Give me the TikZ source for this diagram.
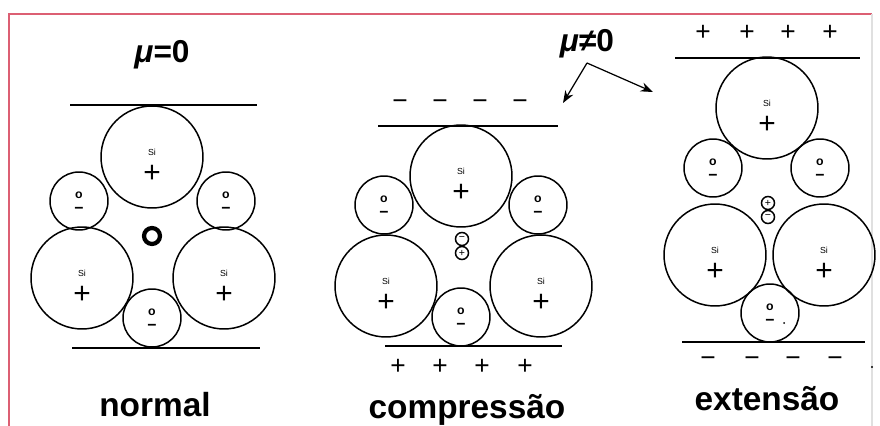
\documentclass[tikz,border=0pt]{standalone}
\usepackage{fontspec}
\setmainfont{Liberation Sans}
\usetikzlibrary{arrows.meta}

\definecolor{framered}{RGB}{220,95,115}

\begin{document}
\begin{tikzpicture}
   [x=0.02cm, y=-0.02cm,
    big atom/.style={circle,draw,line width=0.85pt,minimum size=2.04cm,inner sep=0pt},
    small atom/.style={circle,draw,line width=0.85pt,minimum size=1.16cm,inner sep=0pt},
    ion/.style={circle,draw,line width=0.85pt,minimum size=0.26cm,inner sep=0pt,font=\fontsize{6}{6}\selectfont},
    si tag/.style={font=\fontsize{5}{6}\selectfont,inner sep=0pt},
    plus tag/.style={font=\fontsize{17}{17}\selectfont,inner sep=0pt},
    o tag/.style={font=\fontsize{7}{7}\selectfont\bfseries,inner sep=0pt},
    minus tag/.style={font=\fontsize{9}{9}\selectfont\bfseries,inner sep=0pt},
    charge/.style={font=\fontsize{15}{15}\selectfont,inner sep=0pt},
    plate/.style={line width=1.1pt},
    caption/.style={font=\fontsize{19}{22}\selectfont\bfseries,anchor=base,inner sep=0pt},
    mu/.style={font=\fontsize{18}{20}\selectfont\bfseries}]
   \useasboundingbox (0,0) rectangle (880,426);

   % frame
   \draw[framered, line width=1.2pt] (9,430) -- (9,14) -- (872,14);
   \draw[black!12, line width=0.6pt] (872,14) -- (872,430);

   % normal
   \node[mu] (mu-n) at (162,55) {{\itshape μ}=0};
   \draw[plate] (70,105) -- (257,105);
   \draw[plate] (72,348) -- (260,348);
   \foreach \n/\x/\y in {n-top/152/157, n-left/82/278, n-right/224/278} {
      \node[big atom] (\n) at (\x,\y) {};
      \node[si tag] (\n-si) at (\x,\y-5) {Si};
      \node[plus tag] (\n-p) at (\x,\y+17) {+};
   }
   \foreach \n/\x/\y in {n-oleft/79/201, n-oright/226/201, n-obot/152/318} {
      \node[small atom] (\n) at (\x,\y) {};
      \node[o tag] (\n-o) at (\x,\y-6) {o};
      \node[minus tag] (\n-m) at (\x,\y+9) {−};
   }
   \node[circle,draw,line width=2.4pt,minimum size=0.32cm,inner sep=0pt] (n-void) at (152,236) {};
   \node[caption] (cap-n) at (155,416) {normal};

   % compressao
   \draw[plate] (378,126) -- (558,126);
   \draw[plate] (385,346) -- (562,346);
   \foreach \x [count=\i] in {400,440,480,520}
      \node[charge] (c-top\i) at (\x,105) {−};
   \foreach \x [count=\i] in {398,440,482,525}
      \node[charge] (c-bot\i) at (\x,367) {+};
   \foreach \n/\x/\y in {c-top/461/176, c-left/386/286, c-right/541/286} {
      \node[big atom] (\n) at (\x,\y) {};
      \node[si tag] (\n-si) at (\x,\y-5) {Si};
      \node[plus tag] (\n-p) at (\x,\y+17) {+};
   }
   \foreach \n/\x/\y in {c-oleft/384/205, c-oright/538/205, c-obot/461/317} {
      \node[small atom] (\n) at (\x,\y) {};
      \node[o tag] (\n-o) at (\x,\y-6) {o};
      \node[minus tag] (\n-m) at (\x,\y+9) {−};
   }
   \node[ion] (c-neg) at (462,239) {−};
   \node[ion] (c-pos) at (462,253) {+};
   \node[caption] (cap-c) at (467,418) {compressão};

   % extensao
   \draw[plate] (675,58) -- (860,58);
   \draw[plate] (682,342) -- (865,342);
   \foreach \x [count=\i] in {703,747,788,830}
      \node[charge] (e-top\i) at (\x,33) {+};
   \foreach \x [count=\i] in {708,752,793,835}
      \node[charge] (e-bot\i) at (\x,362) {−};
   \fill (872,367) circle (1.2);
   \foreach \n/\x/\y in {e-top/767/108, e-left/715/255, e-right/824/255} {
      \node[big atom] (\n) at (\x,\y) {};
      \node[si tag] (\n-si) at (\x,\y-5) {Si};
      \node[plus tag] (\n-p) at (\x,\y+17) {+};
   }
   \foreach \n/\x/\y in {e-oleft/713/168, e-oright/820/168, e-obot/770/313} {
      \node[small atom] (\n) at (\x,\y) {};
      \node[o tag] (\n-o) at (\x,\y-6) {o};
      \node[minus tag] (\n-m) at (\x,\y+9) {−};
   }
   \fill (784,323) circle (1);
   \node[ion] (e-pos) at (768,203) {+};
   \node[ion] (e-neg) at (768,217) {−};
   \node[caption] (cap-e) at (767,410) {extensão};

   % mu != 0 pointing at both strained cells
   \node[mu] (mu-s) at (587,44) {{\itshape μ}≠0};
   \coordinate (fork) at (587,63);
   \coordinate (to-c) at (563,103);
   \coordinate (to-e) at (653,92);
   \draw[-{Stealth[length=7pt]}, line width=0.7pt] (fork) -- (to-c);
   \draw[-{Stealth[length=7pt]}, line width=0.7pt] (fork) -- (to-e);
\end{tikzpicture}
\end{document}
